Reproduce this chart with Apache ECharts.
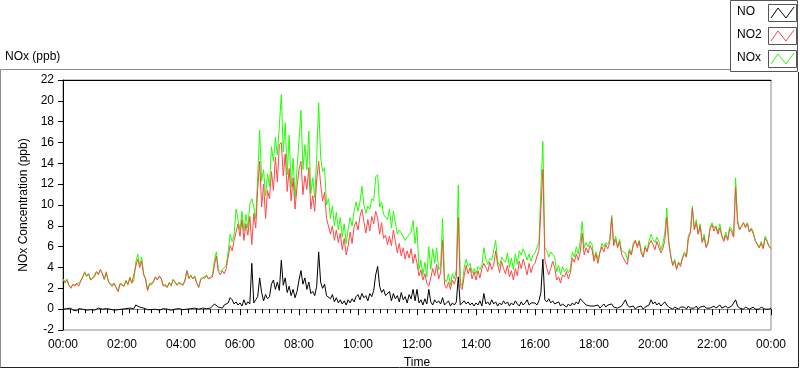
<!DOCTYPE html>
<html><head><meta charset="utf-8">
<script src="https://cdn.jsdelivr.net/npm/echarts/dist/echarts.min.js"></script>
<style>html,body{margin:0;padding:0;background:#fff}#c{width:800px;height:369px}</style>
</head><body><div id="c"></div>
<script>
// sample step: 4 minutes, 00:00 .. 24:00 (15 samples per hour row)
const stepMin = 4;
const xTickLabels = ['00:00','02:00','04:00','06:00','08:00','10:00','12:00','14:00','16:00','18:00','20:00','22:00','00:00'];
const seriesNames = ['NO','NO2','NOx'];

const NO2 = [
 2.9,2.6,2.8,2.3,2.0,2.4,2.2,2.5,2.2,2.7,3.1,3.5,3.2,3.4,2.8,
 2.9,3.1,3.6,3.3,3.8,3.4,2.9,3.5,2.7,2.4,2.2,2.5,2.1,1.7,2.4,
 2.5,2.2,2.7,2.4,3.0,2.5,2.6,4.1,4.8,4.0,4.6,3.3,2.9,1.8,2.4,
 2.3,2.6,3.1,2.8,3.2,2.9,2.2,2.4,2.1,2.5,2.3,2.8,2.6,2.3,2.5,
 2.6,2.3,2.7,3.7,3.0,3.2,2.9,3.1,2.5,2.1,2.8,3.0,2.9,3.2,2.9,
 3.0,3.1,4.2,5.1,3.6,3.3,3.7,3.4,3.9,5.0,6.1,5.6,6.6,7.4,8.2,
 7.0,8.6,6.6,8.2,7.1,8.9,6.2,9.2,7.8,11.5,14.2,9.8,12.0,8.7,11.4,
 10.6,13.2,11.4,14.6,12.2,15.8,16.0,12.8,14.9,11.3,13.5,10.4,12.6,9.6,11.8,
 13.4,14.2,11.0,12.8,11.5,13.6,9.6,10.9,9.4,12.4,14.2,12.0,10.4,11.2,8.7,
 8.8,7.2,8.0,6.6,7.6,6.4,7.3,5.7,6.8,5.2,6.1,7.4,6.3,7.9,8.4,
 7.6,8.9,9.6,8.4,7.3,8.6,7.5,8.9,8.2,9.4,8.7,7.2,8.3,6.8,7.1,
 6.2,7.0,6.1,7.6,6.5,5.4,6.3,5.1,5.9,4.8,5.6,4.9,5.8,4.4,5.3,
 4.4,3.2,3.8,2.8,3.4,2.5,2.2,3.0,3.9,3.2,4.3,2.9,3.5,6.6,2.4,
 2.0,2.6,1.9,2.8,2.4,3.1,8.8,2.2,1.9,3.2,4.2,3.4,4.0,2.9,3.6,
 2.8,3.7,3.0,3.9,4.4,4.3,3.6,4.5,3.8,4.2,5.6,4.3,3.5,4.6,3.9,
 3.4,4.2,3.1,3.7,2.8,3.9,3.2,4.6,3.9,4.8,4.1,3.3,4.4,3.5,4.2,
 4.4,5.1,5.6,9.6,13.4,4.8,3.9,3.3,3.9,4.6,4.0,2.8,3.1,2.5,3.3,
 3.1,3.6,2.9,3.5,4.9,4.5,5.3,4.7,5.5,7.3,5.2,5.9,5.4,6.1,5.7,
 4.6,5.3,4.4,5.4,6.0,5.5,6.2,5.8,6.4,8.8,6.1,6.7,5.9,6.5,5.3,
 5.4,4.5,4.3,5.6,5.2,6.1,6.6,5.9,6.5,5.4,5.0,5.9,5.5,6.2,6.6,
 6.2,5.7,6.5,5.9,5.4,5.8,6.6,8.8,6.4,5.1,4.2,4.6,3.8,4.5,4.1,
 4.9,5.3,5.0,6.8,7.3,9.7,7.6,8.3,7.2,8.0,6.4,6.9,5.9,6.3,7.7,
 8.1,7.5,7.9,7.2,7.8,7.0,6.5,7.1,6.6,7.7,7.4,6.9,11.7,8.3,7.6,
 7.9,8.3,7.8,8.2,7.4,7.7,7.2,6.6,6.2,5.9,6.3,5.8,6.8,6.5,6.0,
 5.8];

const NO = [
 0.0,-0.1,0.05,-0.05,0.1,-0.1,0.0,-0.15,0.05,-0.05,0.0,0.1,-0.1,0.0,-0.05,
 0.05,-0.1,0.0,0.1,-0.05,0.0,-0.1,0.05,-0.05,0.0,0.1,-0.1,0.0,-0.05,0.05,
 0.0,-0.05,0.05,-0.1,0.1,0.0,0.05,0.4,0.3,0.2,0.35,0.1,0.0,-0.05,0.05,
 -0.05,0.05,0.0,0.1,-0.1,0.0,0.05,-0.05,0.0,0.1,-0.1,0.05,0.0,-0.05,0.05,
 0.0,-0.05,0.1,0.0,-0.1,0.05,0.0,0.1,-0.05,0.0,0.05,0.1,0.0,0.05,0.0,
 0.1,0.2,0.5,0.4,0.2,0.3,0.1,0.4,0.3,0.6,1.1,0.9,0.5,0.7,0.4,
 0.6,0.3,0.9,0.4,0.7,0.5,4.4,0.6,0.9,1.2,3.0,1.6,0.8,1.4,1.0,
 1.2,2.4,2.8,1.9,2.6,1.8,4.7,2.3,3.0,1.6,2.2,1.3,1.9,1.1,1.7,
 2.8,3.7,2.4,3.0,1.9,2.6,1.5,1.7,1.3,2.2,5.5,2.6,2.0,2.4,1.3,
 1.2,1.0,1.4,0.7,1.1,0.6,0.9,0.5,0.8,0.4,0.9,0.6,1.0,0.7,1.2,
 1.4,0.9,1.5,1.1,1.3,0.8,1.5,1.2,1.8,3.3,4.1,2.2,1.6,1.9,1.3,
 1.2,1.7,0.8,1.5,1.0,1.3,0.7,1.6,0.9,1.2,0.6,1.4,1.0,1.9,0.8,
 1.9,0.6,0.9,0.4,1.0,0.5,1.9,0.7,0.4,0.9,0.6,0.8,0.5,1.1,0.4,
 0.5,0.8,0.3,0.6,0.4,0.7,3.1,0.4,0.3,0.8,0.5,0.7,0.4,0.6,0.3,
 0.6,0.4,0.8,0.3,1.5,0.5,0.7,0.4,0.9,0.5,0.7,0.3,0.6,0.4,0.8,
 0.5,0.7,0.3,0.6,0.4,0.8,0.5,0.3,0.7,0.4,0.6,0.9,0.4,0.6,0.5,
 0.6,0.4,0.8,1.6,4.8,0.9,0.7,1.0,0.6,0.8,0.5,0.4,0.7,0.3,0.5,
 0.4,0.2,0.5,0.3,0.6,0.4,0.7,0.5,1.0,0.9,0.6,0.4,0.5,0.3,0.4,
 0.3,0.2,0.4,0.1,0.3,0.5,0.2,0.4,0.3,0.5,0.2,0.3,0.1,0.2,0.3,
 0.2,0.9,0.4,0.2,0.1,0.3,0.0,0.2,0.1,0.3,0.0,0.2,0.1,0.4,0.9,
 0.5,0.7,0.4,0.6,0.3,0.5,0.7,0.4,0.2,0.1,0.0,0.2,0.1,0.0,0.2,
 0.1,0.2,0.0,0.3,0.1,0.2,0.1,0.3,0.0,0.2,0.1,0.3,0.1,0.2,0.1,
 0.2,0.3,0.1,0.2,0.4,0.1,0.2,0.3,0.1,0.2,0.3,0.2,0.9,0.3,0.1,
 0.1,0.0,0.2,0.1,0.0,0.1,0.2,0.0,0.1,0.0,0.2,0.1,0.0,0.1,0.0,
 0.1];

const NOx = [
 2.9,2.5,2.9,2.3,2.1,2.3,2.2,2.4,2.3,2.7,3.1,3.6,3.1,3.4,2.8,
 3.0,3.0,3.6,3.4,3.8,3.4,2.8,3.6,2.7,2.4,2.3,2.4,2.1,1.7,2.5,
 2.5,2.2,2.8,2.3,3.1,2.5,2.7,4.5,5.3,4.2,5.0,3.4,2.9,1.8,2.5,
 2.3,2.7,3.1,2.9,3.1,2.9,2.3,2.4,2.1,2.6,2.2,2.9,2.6,2.3,2.6,
 2.6,2.3,2.8,3.7,2.9,3.3,2.9,3.2,2.5,2.1,2.9,3.1,2.9,3.3,2.9,
 3.1,3.3,4.7,5.5,3.8,3.6,3.8,3.8,4.2,5.6,7.2,6.5,7.1,9.6,8.6,
 7.6,9.4,7.5,9.1,7.8,10.1,10.6,9.8,8.7,12.7,17.2,12.3,13.4,10.9,13.0,
 11.8,15.6,14.2,16.5,14.8,17.6,20.6,15.1,17.9,12.9,16.7,11.7,14.5,10.7,13.5,
 16.2,19.1,13.4,15.8,13.4,17.1,11.1,12.6,10.7,14.6,19.8,14.6,13.2,13.6,10.0,
 10.6,8.7,9.9,8.0,9.3,7.6,8.8,6.9,8.2,6.3,7.7,8.8,8.0,9.4,10.3,
 9.4,10.3,11.8,10.0,9.2,9.9,9.6,10.6,10.4,12.7,12.9,9.8,10.3,9.1,8.8,
 8.6,9.6,7.8,9.4,8.3,7.2,7.6,7.3,7.2,6.6,6.9,6.8,7.4,8.5,6.3,
 7.9,3.8,4.7,3.3,4.5,3.1,6.0,3.8,5.8,4.4,5.9,3.8,4.1,8.7,2.9,
 2.6,3.4,2.3,3.4,2.9,3.8,11.9,2.6,2.2,4.0,4.8,4.1,4.4,3.5,3.9,
 3.4,4.1,3.8,4.2,5.9,4.8,4.3,4.9,4.7,4.7,6.6,4.6,4.1,5.0,4.7,
 4.5,5.4,4.0,4.9,3.8,5.3,4.3,5.6,5.2,5.8,5.3,4.7,5.3,4.6,5.2,
 5.4,5.9,6.4,11.6,16.1,5.9,5.6,5.0,5.5,5.6,5.0,3.6,4.2,3.3,4.1,
 3.6,3.9,3.5,3.9,5.5,5.0,6.0,5.3,6.5,8.4,5.9,6.4,6.0,6.5,6.2,
 4.9,5.5,4.8,5.5,6.3,6.0,6.4,6.2,6.7,9.0,6.3,7.0,6.0,6.7,5.6,
 5.6,5.4,4.7,5.8,5.3,6.4,6.6,6.1,6.6,5.7,5.0,6.1,5.6,6.6,7.2,
 6.7,6.4,6.9,6.5,5.7,6.3,7.3,9.7,6.6,5.2,4.2,4.8,3.9,4.5,4.3,
 5.0,5.5,5.0,7.1,7.4,9.9,7.7,8.6,7.2,8.2,6.5,7.2,6.0,6.5,7.8,
 8.3,7.8,8.0,7.4,8.2,7.1,6.7,7.4,6.7,7.9,7.7,7.1,12.6,8.6,7.7,
 8.0,8.3,8.0,8.3,7.4,7.8,7.4,6.6,6.3,5.9,6.5,5.9,7.0,6.6,6.0,
 5.9];

const FONT = 'Liberation Sans';
const pairs = arr => arr.map((v, i) => [i * stepMin, v]);

function legendItem(y, name, color) {
  return [
    {type:'text', left:737, top:y+2, style:{text:name, font:'12px ' + FONT, fill:'#000'}},
    {type:'rect', shape:{x:768.5, y:y+0.5, width:28, height:17}, style:{fill:'#fff', stroke:'#555', lineWidth:1}},
    {type:'polyline', shape:{points:[[771,y+14],[778,y+4],[786,y+14],[794,y+3]]}, style:{stroke:color, lineWidth:1, fill:null}}
  ];
}

const chart = echarts.init(document.getElementById('c'), null, {renderer:'canvas'});
chart.setOption({
  animation: false,
  backgroundColor: '#fff',
  grid: {left:63, right:29, top:80, bottom:39, containLabel:false, outerBoundsMode:'none',
         show:true, borderColor:'#8a8a8a', borderWidth:1, backgroundColor:'#fff'},
  xAxis: [{
    type:'value', min:0, max:1440, interval:120,
    name:'Time', nameLocation:'middle', nameGap:27,
    nameTextStyle:{fontFamily:FONT, fontSize:12, color:'#000'},
    axisLine:{show:true, lineStyle:{color:'#8a8a8a'}},
    axisTick:{show:true, length:6, lineStyle:{color:'#000'}},
    minorTick:{show:true, splitNumber:8, length:4, lineStyle:{color:'#000'}},
    splitLine:{show:false},
    axisLabel:{margin:9, fontFamily:FONT, fontSize:12, color:'#000', formatter: v => xTickLabels[Math.round(v/120)]}
  }, {
    type:'value', min:0, max:1440, position:'top',
    axisLine:{show:true, lineStyle:{color:'#000'}}, axisTick:{show:false}, axisLabel:{show:false}, splitLine:{show:false}
  }],
  yAxis: {
    type:'value', min:-2, max:22, interval:2,
    name:'NOx Concentration (ppb)', nameLocation:'middle', nameGap:32, nameRotate:90,
    nameTextStyle:{fontFamily:FONT, fontSize:12, color:'#000'},
    axisLine:{show:true, lineStyle:{color:'#000'}},
    axisTick:{show:true, length:5, lineStyle:{color:'#000'}},
    splitLine:{show:false},
    axisLabel:{margin:9, fontFamily:FONT, fontSize:12, color:'#000'}
  },
  series: [
    {name:seriesNames[2], type:'line', data:pairs(NOx), showSymbol:false, lineStyle:{color:'#22ff00', width:1}, z:2},
    {name:seriesNames[1], type:'line', data:pairs(NO2), showSymbol:false, lineStyle:{color:'#ff4848', width:1}, z:3},
    {name:seriesNames[0], type:'line', data:pairs(NO), showSymbol:false, lineStyle:{color:'#000', width:1}, z:4}
  ],
  graphic: [
    {type:'polyline', shape:{points:[[0.5,368],[0.5,69.5],[730,69.5]]}, style:{stroke:'#8a8a8a', lineWidth:1, fill:null}, silent:true},
    {type:'polyline', shape:{points:[[0.5,367.5],[798.5,367.5],[798.5,72]]}, style:{stroke:'#222', lineWidth:1, fill:null}, silent:true},
    {type:'text', left:5, top:51, style:{text:'NOx (ppb)', font:'12px ' + FONT, fill:'#000'}},
    {type:'rect', shape:{x:730.5, y:0.5, width:67, height:71}, style:{fill:'#fff', stroke:'#555', lineWidth:1}},
    ...legendItem(4, seriesNames[0], '#000'),
    ...legendItem(27, seriesNames[1], '#ff4848'),
    ...legendItem(50, seriesNames[2], '#22ff00')
  ]
});
</script></body></html>
